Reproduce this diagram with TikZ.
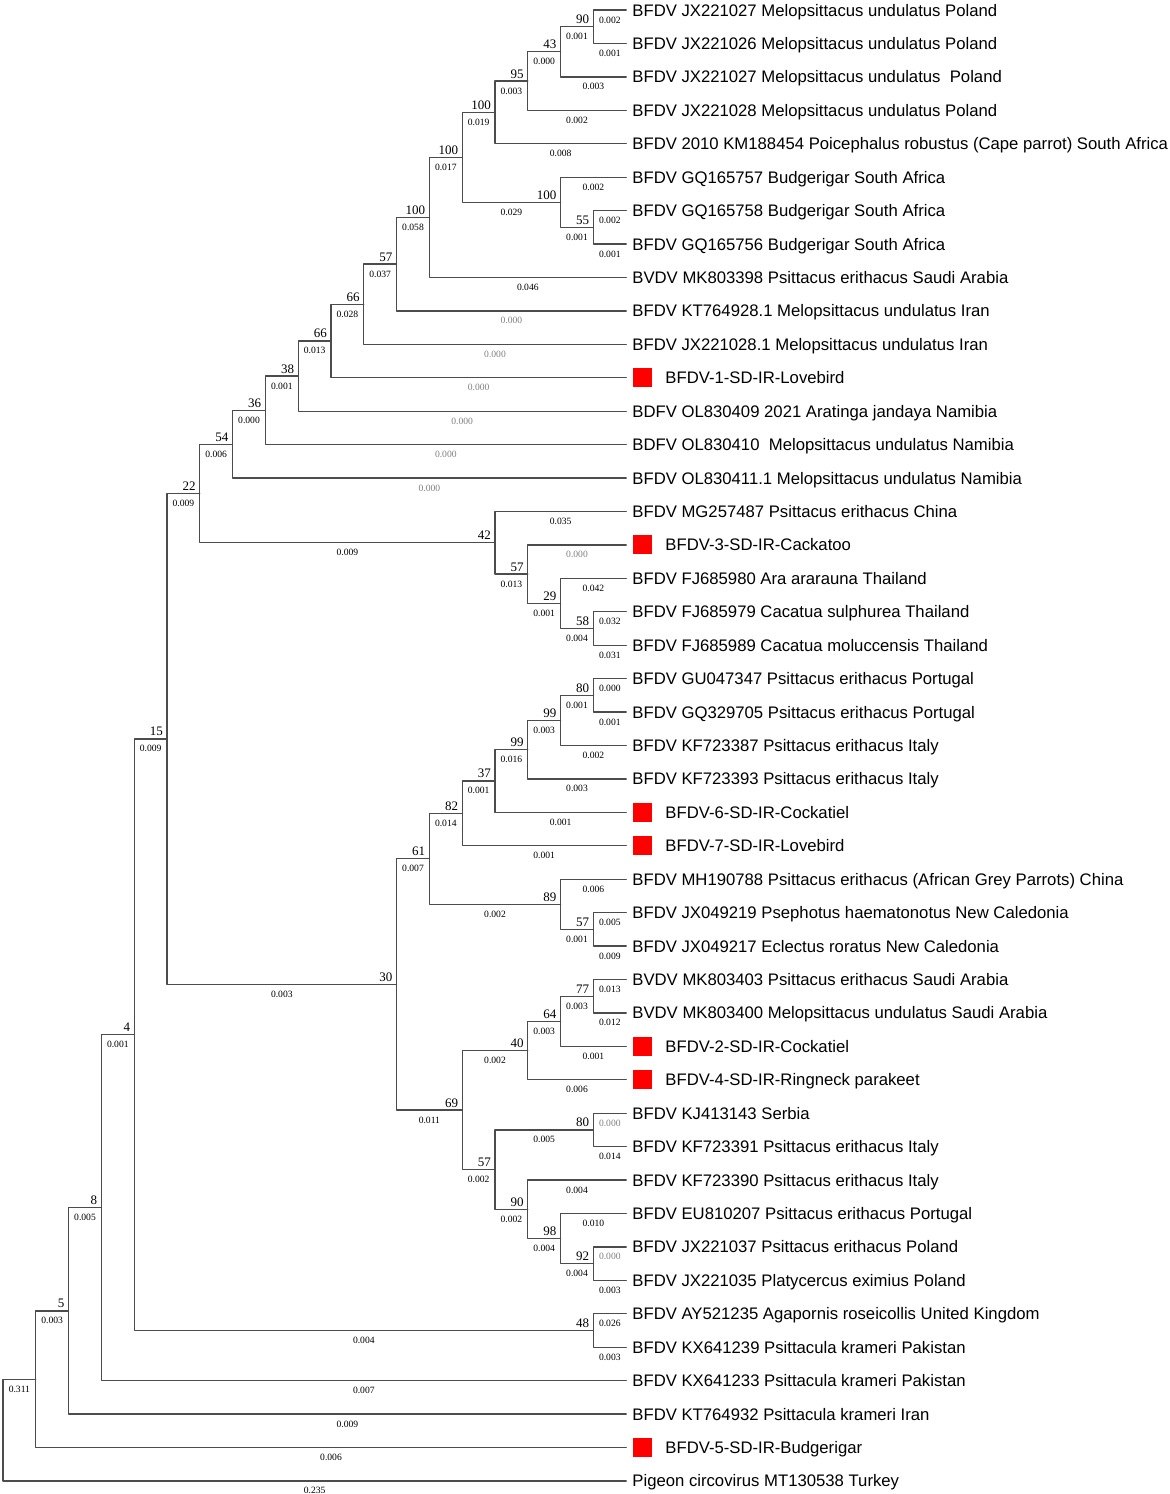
\documentclass[tikz,border=0pt]{standalone}
\usepackage{fontspec}
\setmainfont{Liberation Sans}
\newfontfamily\numfont{Liberation Serif}
\begin{document}
\begin{tikzpicture}[x=1pt,y=-1pt,line join=round,line cap=round]
	\tikzset{declare function={
			lx(\k)=3+32.8*\k;
			ly(\j)=10+33.43*\j;
		},
		edge/.style={draw=black!70,line width=1.3pt},
		leaf/.style={anchor=base west,inner sep=0pt,font=\fontsize{16.7}{20}\selectfont,xshift=6pt,yshift=-6pt},
		boot/.style={anchor=base east,inner sep=0pt,font=\numfont\fontsize{13}{14}\selectfont,xshift=-4pt,yshift=3pt},
		blen/.style={anchor=base,inner sep=0pt,font=\numfont\fontsize{9.6}{11}\selectfont,yshift=-13pt},
		zlen/.style={blen,text=black!50},
		redsq/.style={fill=red,draw=none,minimum size=19pt,inner sep=0pt}
	}
	\useasboundingbox (0,0) rectangle (1170,1494);
	% leaves
	\foreach \i in {0,...,44}{
		\coordinate (L\i) at ({lx(19)},{ly(\i)});
	}
	% inner nodes: name/level/position
	\foreach \n/\k/\j in {root/0/42.4783,nR/1/40.9566,n5/2/38.9132,n8/3/35.8264,n4/4/30.6527,
		n15/5/21.8055,n22/6/14.4625,n54/7/12.98755,n36/8/11.9751,n38/9/10.9502,n66b/10/9.90039,
		n66a/11/8.80078,n57a/12/7.6015625,n100d/13/6.203125,n100b/14/4.40625,n100a/15/3.0625,
		n95/16/2.125,n43/17/1.25,n90/18/0.5,n100c/17/5.75,n55/18/6.5,
		n42/15/15.9375,n57b/16/16.875,n29/17/17.75,n58/18/18.5,
		n30/12/29.1484,n61/13/25.3906,n82/14/24.03125,n37/15/23.0625,n99b/16/22.125,n99a/17/21.25,n80a/18/20.5,
		n89/17/26.75,n57c/18/27.5,
		n69/14/32.90625,n40/16/31.125,n64/17/30.25,n77/18/29.5,
		n57d/15/34.6875,n80b/18/33.5,n90b/16/35.875,n98/17/36.75,n92/18/37.5,
		n48/18/39.5}{
		\coordinate (\n) at ({lx(\k)},{ly(\j)});
	}
	% branches with lengths
	\foreach \p/\c/\l/\s in {root/nR/0.311/blen,root/L44/0.235/blen,
		nR/n5/0.003/blen,nR/L43/0.006/blen,
		n5/n8/0.005/blen,n5/L42/0.009/blen,
		n8/n4/0.001/blen,n8/L41/0.007/blen,
		n4/n15/0.009/blen,n4/n48/0.004/blen,
		n48/L39/0.026/blen,n48/L40/0.003/blen,
		n15/n22/0.009/blen,n15/n30/0.003/blen,
		n22/n54/0.006/blen,n22/n42/0.009/blen,
		n54/n36/0.000/blen,n54/L14/0.000/zlen,
		n36/n38/0.001/blen,n36/L13/0.000/zlen,
		n38/n66b/0.013/blen,n38/L12/0.000/zlen,
		n66b/n66a/0.028/blen,n66b/L11/0.000/zlen,
		n66a/n57a/0.037/blen,n66a/L10/0.000/zlen,
		n57a/n100d/0.058/blen,n57a/L9/0.000/zlen,
		n100d/n100b/0.017/blen,n100d/L8/0.046/blen,
		n100b/n100a/0.019/blen,n100b/n100c/0.029/blen,
		n100a/n95/0.003/blen,n100a/L4/0.008/blen,
		n95/n43/0.000/blen,n95/L3/0.002/blen,
		n43/n90/0.001/blen,n43/L2/0.003/blen,
		n90/L0/0.002/blen,n90/L1/0.001/blen,
		n100c/L5/0.002/blen,n100c/n55/0.001/blen,
		n55/L6/0.002/blen,n55/L7/0.001/blen,
		n42/L15/0.035/blen,n42/n57b/0.013/blen,
		n57b/L16/0.000/zlen,n57b/n29/0.001/blen,
		n29/L17/0.042/blen,n29/n58/0.004/blen,
		n58/L18/0.032/blen,n58/L19/0.031/blen,
		n30/n61/0.007/blen,n30/n69/0.011/blen,
		n61/n82/0.014/blen,n61/n89/0.002/blen,
		n82/n37/0.001/blen,n82/L25/0.001/blen,
		n37/n99b/0.016/blen,n37/L24/0.001/blen,
		n99b/n99a/0.003/blen,n99b/L23/0.003/blen,
		n99a/n80a/0.001/blen,n99a/L22/0.002/blen,
		n80a/L20/0.000/blen,n80a/L21/0.001/blen,
		n89/L26/0.006/blen,n89/n57c/0.001/blen,
		n57c/L27/0.005/blen,n57c/L28/0.009/blen,
		n69/n40/0.002/blen,n69/n57d/0.002/blen,
		n40/n64/0.003/blen,n40/L32/0.006/blen,
		n64/n77/0.003/blen,n64/L31/0.001/blen,
		n77/L29/0.013/blen,n77/L30/0.012/blen,
		n57d/n80b/0.005/blen,n57d/n90b/0.002/blen,
		n80b/L33/0.000/zlen,n80b/L34/0.014/blen,
		n90b/L35/0.004/blen,n90b/n98/0.004/blen,
		n98/L36/0.010/blen,n98/n92/0.004/blen,
		n92/L37/0.000/zlen,n92/L38/0.003/blen}{
		\draw[edge] (\p) |- (\c) node[\s,pos=.75] (len\c) {\l};
	}
	% bootstrap values
	\foreach \n/\b in {n90/90,n43/43,n95/95,n100a/100,n100b/100,n100c/100,n55/55,n100d/100,
		n57a/57,n66a/66,n66b/66,n38/38,n36/36,n54/54,n22/22,n42/42,n57b/57,n29/29,n58/58,
		n15/15,n80a/80,n99a/99,n99b/99,n37/37,n82/82,n61/61,n89/89,n57c/57,n30/30,
		n77/77,n64/64,n40/40,n69/69,n80b/80,n57d/57,n90b/90,n98/98,n92/92,n48/48,
		n4/4,n8/8,n5/5}{
		\node[boot] (b\n) at (\n) {\b};
	}
	% taxa
	\foreach \i/\txt in {0/BFDV JX221027 Melopsittacus undulatus Poland,
		1/BFDV JX221026 Melopsittacus undulatus Poland,
		2/BFDV JX221027 Melopsittacus undulatus~ Poland,
		3/BFDV JX221028 Melopsittacus undulatus Poland,
		4/BFDV 2010 KM188454 Poicephalus robustus (Cape parrot) South Africa,
		5/BFDV GQ165757 Budgerigar South Africa,
		6/BFDV GQ165758 Budgerigar South Africa,
		7/BFDV GQ165756 Budgerigar South Africa,
		8/BVDV MK803398 Psittacus erithacus Saudi Arabia,
		9/BFDV KT764928.1 Melopsittacus undulatus Iran,
		10/BFDV JX221028.1 Melopsittacus undulatus Iran,
		12/BDFV OL830409 2021 Aratinga jandaya Namibia,
		13/BDFV OL830410~ Melopsittacus undulatus Namibia,
		14/BFDV OL830411.1 Melopsittacus undulatus Namibia,
		15/BFDV MG257487 Psittacus erithacus China,
		17/BFDV FJ685980 Ara ararauna Thailand,
		18/BFDV FJ685979 Cacatua sulphurea Thailand,
		19/BFDV FJ685989 Cacatua moluccensis Thailand,
		20/BFDV GU047347 Psittacus erithacus Portugal,
		21/BFDV GQ329705 Psittacus erithacus Portugal,
		22/BFDV KF723387 Psittacus erithacus Italy,
		23/BFDV KF723393 Psittacus erithacus Italy,
		26/BFDV MH190788 Psittacus erithacus (African Grey Parrots) China,
		27/BFDV JX049219 Psephotus haematonotus New Caledonia,
		28/BFDV JX049217 Eclectus roratus New Caledonia,
		29/BVDV MK803403 Psittacus erithacus Saudi Arabia,
		30/BVDV MK803400 Melopsittacus undulatus Saudi Arabia,
		33/BFDV KJ413143 Serbia,
		34/BFDV KF723391 Psittacus erithacus Italy,
		35/BFDV KF723390 Psittacus erithacus Italy,
		36/BFDV EU810207 Psittacus erithacus Portugal,
		37/BFDV JX221037 Psittacus erithacus Poland,
		38/BFDV JX221035 Platycercus eximius Poland,
		39/BFDV AY521235 Agapornis roseicollis United Kingdom,
		40/BFDV KX641239 Psittacula krameri Pakistan,
		41/BFDV KX641233 Psittacula krameri Pakistan,
		42/BFDV KT764932 Psittacula krameri Iran,
		44/Pigeon circovirus MT130538 Turkey}{
		\node[leaf] (t\i) at (L\i) {\txt};
	}
	% isolates of this study
	\foreach \i/\txt in {11/BFDV-1-SD-IR-Lovebird,16/BFDV-3-SD-IR-Cackatoo,24/BFDV-6-SD-IR-Cockatiel,
		25/BFDV-7-SD-IR-Lovebird,31/BFDV-2-SD-IR-Cockatiel,32/BFDV-4-SD-IR-Ringneck parakeet,
		43/BFDV-5-SD-IR-Budgerigar}{
		\node[redsq] (sq\i) at ([xshift=16.5pt]L\i) {};
		\node[leaf,xshift=33pt] (t\i) at (L\i) {\txt};
	}
\end{tikzpicture}
\end{document}
